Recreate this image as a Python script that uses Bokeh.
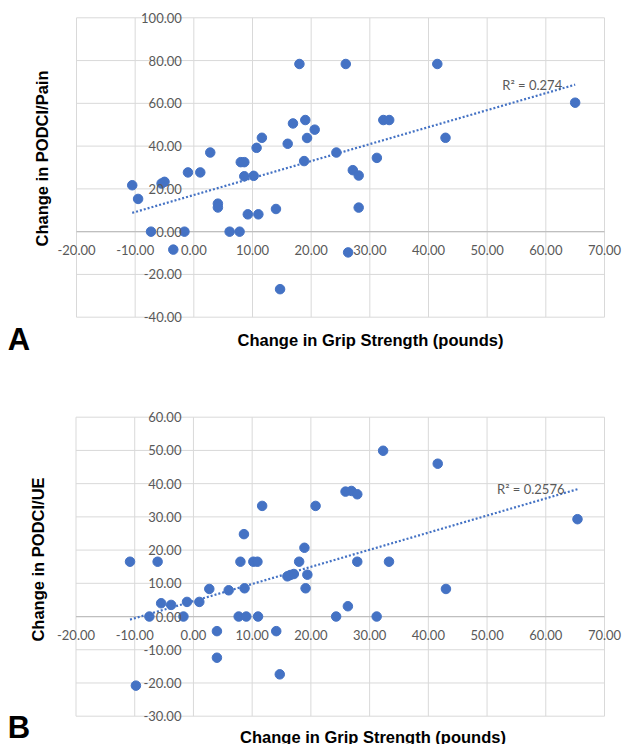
import numpy as np
from bokeh.plotting import figure
from bokeh.layouts import column
from bokeh.models import Range1d, FixedTicker, NumeralTickFormatter, Label
from bokeh.embed import file_html
from bokeh.resources import INLINE

# ---- data ----
x_a = [-10.5, -9.5, -7.3, -5.5, -5.0, -3.5, -1.6, -1.0, 1.1, 2.8, 4.1, 4.1, 6.1, 7.8,
       8.0, 8.6, 8.6, 9.2, 10.2, 10.7, 11.0, 11.6, 14.0, 14.7, 16.0, 16.9, 18.0, 18.8,
       19.0, 19.3, 20.6, 24.3, 25.9, 26.3, 27.1, 28.1, 28.1, 31.2, 32.3, 33.3, 41.5,
       42.9, 65.0]
y_a = [21.7, 15.3, 0.0, 22.5, 23.3, -8.4, 0.0, 27.7, 27.7, 37.0, 13.1, 11.3, 0.0, 0.0,
       32.5, 32.5, 25.9, 8.1, 26.1, 39.2, 8.1, 43.9, 10.6, -26.9, 41.1, 50.6, 78.4, 33.0,
       52.2, 43.8, 47.7, 37.0, 78.4, -9.7, 28.75, 26.25, 11.25, 34.5, 52.2, 52.2, 78.4,
       43.9, 60.3]

x_b = [-10.8, -9.8, -7.5, -6.1, -5.5, -3.8, -1.7, -1.1, 1.0, 2.7, 4.0, 4.0, 6.0, 7.7,
       8.0, 8.6, 8.7, 9.0, 10.2, 10.9, 11.0, 11.7, 14.1, 14.7, 16.0, 16.5, 17.1, 18.0,
       18.9, 19.1, 19.4, 20.8, 24.3, 25.9, 26.3, 26.9, 27.9, 27.9, 31.2, 32.3, 33.3,
       41.6, 43.0, 65.4]
y_b = [16.5, -20.8, 0.0, 16.5, 4.0, 3.5, 0.0, 4.4, 4.4, 8.3, -4.4, -12.4, 7.9, 0.0,
       16.5, 24.8, 8.5, 0.0, 16.5, 16.5, 0.0, 33.3, -4.4, -17.4, 12.1, 12.5, 12.8, 16.5,
       20.7, 8.5, 12.6, 33.3, 0.0, 37.6, 3.1, 37.8, 36.8, 16.5, 0.0, 49.9, 16.5,
       46.0, 8.3, 29.3]

x_ticks = [-20, -10, 0, 10, 20, 30, 40, 50, 60, 70]
y_ticks_a = [-40, -20, 0, 20, 40, 60, 80, 100]
y_ticks_b = [-30, -20, -10, 0, 10, 20, 30, 40, 50, 60]

x_title = "Change in Grip Strength (pounds)"
y_title_a = "Change in PODCI/Pain"
y_title_b = "Change in PODCI/UE"
r2_a = "R² = 0.274"
r2_b = "R² = 0.2576"
panel_a = "A"
panel_b = "B"

BLUE = "#4472C4"
GRID = "#d9d9d9"
ZERO = "#bfbfbf"
TICK_TXT = "#595959"
W = 625


def make_panel(xs, ys, yticks, ytitle, r2, letter, height,
               box_left, box_right, box_top, box_bottom,
               ytitle_pos, xtitle_pos, letter_pos):
    # the plot frame covers the whole canvas; the gridded box sits inside it
    x0, x1 = x_ticks[0], x_ticks[-1]
    y0, y1 = yticks[0], yticks[-1]
    sx = (box_right - box_left) / (x1 - x0)
    sy = (box_bottom - box_top) / (y1 - y0)
    xr = Range1d(x0 - box_left / sx, x1 + (W - box_right) / sx)
    yr = Range1d(y0 - (height - box_bottom) / sy, y1 + box_top / sy)

    p = figure(width=W, height=height, output_backend="svg", toolbar_location=None,
               x_range=xr, y_range=yr, min_border=0,
               min_border_left=0, min_border_right=0,
               min_border_top=0, min_border_bottom=0)
    p.title.visible = False
    p.background_fill_color = "white"
    p.border_fill_color = "white"
    p.outline_line_color = None
    p.xgrid.visible = False
    p.ygrid.visible = False

    for ax in (p.xaxis[0], p.yaxis[0]):
        ax.fixed_location = 0
        ax.axis_line_color = None
        ax.major_tick_line_color = None
        ax.minor_tick_line_color = None
        ax.major_label_text_font = "Lato"
        ax.major_label_text_font_size = "13px"
        ax.major_label_text_color = TICK_TXT
        ax.formatter = NumeralTickFormatter(format="0.00")
        ax.major_tick_out = 0
        ax.major_tick_in = 0
    p.xaxis.ticker = FixedTicker(ticks=x_ticks)
    p.yaxis.ticker = FixedTicker(ticks=yticks)
    p.xaxis.major_label_standoff = 13
    p.yaxis.major_label_standoff = 12

    # gridlines from the tick arrays
    n_x = len(x_ticks)
    n_y = len(yticks)
    p.segment(x0=x_ticks, y0=[y0] * n_x, x1=x_ticks, y1=[y1] * n_x,
              line_color=GRID, line_width=1)
    p.segment(x0=[x0] * n_y, y0=yticks, x1=[x1] * n_y, y1=yticks,
              line_color=GRID, line_width=1)
    # horizontal axis line at zero
    p.segment(x0=[x0], y0=[0], x1=[x1], y1=[0], line_color=ZERO, line_width=1.2)

    # trendline (least squares fit of the data)
    xs_arr = np.array(xs)
    ys_arr = np.array(ys)
    slope, intercept = np.polyfit(xs_arr, ys_arr, 1)
    tx = [float(xs_arr.min()), float(xs_arr.max())]
    ty = [slope * v + intercept for v in tx]
    p.line(tx, ty, line_color=BLUE, line_width=2.2, line_dash="2 2")

    p.scatter(xs, ys, size=9.5, fill_color=BLUE, line_color=BLUE)

    p.add_layout(Label(x=tx[1], y=ty[1], text=r2, text_align="right",
                       text_baseline="middle", x_offset=-13,
                       text_font="Lato", text_font_size="13px", text_color=TICK_TXT))

    # axis titles and panel letter (screen units, frame == canvas)
    p.add_layout(Label(x=ytitle_pos[0], y=height - ytitle_pos[1],
                       x_units="screen", y_units="screen",
                       text=ytitle, angle=np.pi / 2, text_align="center",
                       text_baseline="middle", text_font="Liberation Sans",
                       text_font_style="bold", text_font_size="16.5px",
                       text_color="black"))
    p.add_layout(Label(x=xtitle_pos[0], y=height - xtitle_pos[1],
                       x_units="screen", y_units="screen",
                       text=x_title, text_align="center", text_baseline="top",
                       text_font="Liberation Sans", text_font_style="bold",
                       text_font_size="16.5px", text_color="black"))
    p.add_layout(Label(x=letter_pos[0], y=height - letter_pos[1],
                       x_units="screen", y_units="screen",
                       text=letter, text_align="center", text_baseline="middle",
                       text_font="Liberation Sans", text_font_style="bold",
                       text_font_size="31px", text_color="black"))
    return p


H_A = 365
H_B = 744 - H_A
pa = make_panel(x_a, y_a, y_ticks_a, y_title_a, r2_a, panel_a, H_A,
                76, 604, 17.3, 316.7,
                (41.5, 158), (370, 330), (18.5, 338.5))
pb = make_panel(x_b, y_b, y_ticks_b, y_title_b, r2_b, panel_b, H_B,
                75.5, 604, 51.7, 350.7,
                (37.5, 559 - H_A), (372.5, 727 - H_A), (18.5, 727 - H_A))

layout = column(pa, pb)
open("out.html", "w").write(file_html(layout, INLINE))
